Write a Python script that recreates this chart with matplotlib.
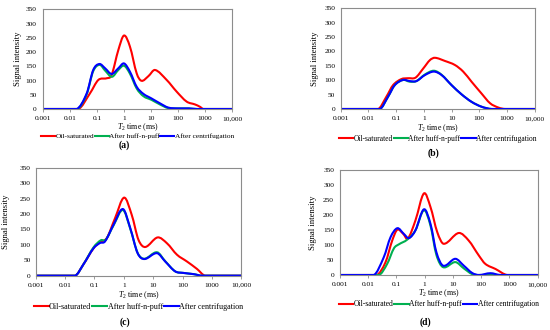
import matplotlib
matplotlib.use("Agg")
import matplotlib.pyplot as plt
from matplotlib.lines import Line2D
from matplotlib.path import Path
from matplotlib.patches import PathPatch

plt.rcParams['font.family'] = ['Liberation Serif', 'DejaVu Serif']
plt.rcParams['mathtext.fontset'] = 'custom'
plt.rcParams['mathtext.rm'] = 'Liberation Serif'
plt.rcParams['mathtext.it'] = 'Liberation Serif:italic'

series_names = ["Oil-saturated", "After huff-n-puff", "After centrifugation"]
series_colors = ["#FF0000", "#00B050", "#0000FF"]
x_ticks = [0.001, 0.01, 0.1, 1, 10, 100, 1000, 10000]
x_tick_labels = ["0.001", "0.01", "0.1", "1", "10", "100", "1000", "10,000"]
y_ticks = [0, 50, 100, 150, 200, 250, 300, 350]
panel_labels = ["(a)", "(b)", "(c)", "(d)"]

# log10(T2) positions and intensities, panel (a)
a_red_logt = [-3, -1.69, -1.26, -0.95, -0.64, -0.46, -0.21, 0.0, 0.22, 0.47, 0.65, 0.9, 1.15, 1.58, 1.95, 2.32, 2.63, 2.81, 2.94, 4]
a_red_val = [0, 0, 55, 102, 108, 119, 207, 258, 219, 125, 99, 115, 137, 102, 61, 26, 16, 8, 0, 0]
a_green_logt = [-3, -1.73, -1.38, -1.14, -0.9, -0.7, -0.45, -0.21, 0.0, 0.22, 0.47, 0.72, 1.02, 1.33, 1.64, 2.0, 2.4, 2.7, 4]
a_green_val = [0, 0, 52, 133, 155, 135, 113, 137, 152, 124, 72, 45, 32, 16, 3, 2, 2, 0, 0]
a_blue_logt = [-3, -1.75, -1.38, -1.14, -0.91, -0.7, -0.46, -0.21, 0.0, 0.22, 0.47, 0.72, 1.02, 1.33, 1.64, 2.0, 2.4, 2.7, 4]
a_blue_val = [0, 0, 55, 137, 158, 143, 123, 143, 160, 131, 78, 53, 37, 20, 5, 2, 2, 0, 0]

# panel (b)
b_red_logt = [-3, -1.65, -1.35, -1.11, -0.81, -0.57, -0.3, -0.02, 0.22, 0.4, 0.76, 1.12, 1.42, 1.72, 2.08, 2.39, 2.69, 2.93, 4]
b_red_val = [0, 0, 43, 83, 104, 107, 109, 141, 170, 178, 167, 153, 130, 95, 54, 20, 5, 0, 0]
b_green_logt = [-3, -1.59, -1.29, -1.05, -0.75, -0.51, -0.27, 0.04, 0.36, 0.64, 1.0, 1.36, 1.72, 2.08, 2.45, 4]
b_green_val = [0, 0, 43, 83, 101, 95, 97, 120, 133, 119, 83, 51, 25, 8, 0, 0]
b_blue_logt = [-3, -1.59, -1.29, -1.05, -0.75, -0.51, -0.27, 0.04, 0.36, 0.64, 1.0, 1.36, 1.72, 2.08, 2.45, 4]
b_blue_val = [0, 0, 43, 83, 101, 97, 97, 118, 130, 118, 83, 51, 25, 8, 0, 0]

# panel (c)
c_red_logt = [-3, -1.66, -1.38, -1.03, -0.81, -0.58, -0.3, 0.01, 0.27, 0.5, 0.73, 1.15, 1.47, 1.81, 2.15, 2.49, 2.77, 4]
c_red_val = [0, 0, 36, 89, 109, 122, 186, 253, 197, 116, 93, 124, 105, 68, 46, 22, 0, 0]
c_green_logt = [-3, -1.66, -1.38, -1.03, -0.78, -0.62, -0.35, -0.03, 0.22, 0.47, 0.7, 1.13, 1.41, 1.75, 2.03, 2.38, 2.66, 4]
c_green_val = [0, 0, 36, 92, 115, 116, 163, 213, 152, 74, 55, 76, 47, 14, 9, 5, 0, 0]
c_blue_logt = [-3, -1.66, -1.38, -1.03, -0.81, -0.64, -0.35, -0.03, 0.22, 0.47, 0.7, 1.13, 1.41, 1.75, 2.03, 2.38, 2.66, 4]
c_blue_val = [0, 0, 36, 89, 106, 111, 165, 216, 154, 73, 54, 73, 46, 14, 9, 5, 0, 0]

# panel (d)
d_red_logt = [-3, -1.69, -1.38, -1.14, -0.96, -0.75, -0.59, -0.32, -0.02, 0.21, 0.45, 0.68, 1.21, 1.56, 1.92, 2.15, 2.51, 2.92, 4]
d_red_val = [0, 0, 42, 115, 151, 137, 121, 182, 272, 227, 143, 104, 140, 115, 65, 37, 20, 0, 0]
d_green_logt = [-3, -1.61, -1.32, -1.08, -0.91, -0.61, -0.32, -0.02, 0.21, 0.42, 0.66, 1.09, 1.39, 1.68, 1.9, 4]
d_green_val = [0, 0, 37, 89, 102, 118, 149, 216, 165, 67, 26, 43, 22, 3, 0, 0]
d_blue_logt = [-3, -1.79, -1.44, -1.2, -0.96, -0.73, -0.55, -0.32, -0.02, 0.21, 0.42, 0.66, 1.09, 1.39, 1.68, 1.92, 2.33, 2.68, 4]
d_blue_val = [0, 0, 59, 126, 156, 137, 123, 149, 219, 171, 76, 31, 54, 31, 7, 0, 6, 0, 0]

panels = [
    [(a_red_logt, a_red_val), (a_green_logt, a_green_val), (a_blue_logt, a_blue_val)],
    [(b_red_logt, b_red_val), (b_green_logt, b_green_val), (b_blue_logt, b_blue_val)],
    [(c_red_logt, c_red_val), (c_green_logt, c_green_val), (c_blue_logt, c_blue_val)],
    [(d_red_logt, d_red_val), (d_green_logt, d_green_val), (d_blue_logt, d_blue_val)],
]


def smooth_path(lt, v):
    """Smoothed-line rendering (cubic Bezier through the data points, like
    a spreadsheet 'smoothed line'), built in log-x space."""
    n = len(lt)
    m = []
    for i in range(n):
        if i == 0 or i == n - 1:
            m.append(0.0)
        else:
            m.append((v[i + 1] - v[i - 1]) / (lt[i + 1] - lt[i - 1]))
    verts = [(10 ** lt[0], v[0])]
    codes = [Path.MOVETO]
    for i in range(n - 1):
        dx = lt[i + 1] - lt[i]
        c1 = (lt[i] + dx / 3, max(0.0, v[i] + m[i] * dx / 3))
        c2 = (lt[i + 1] - dx / 3, max(0.0, v[i + 1] - m[i + 1] * dx / 3))
        verts += [(10 ** c1[0], c1[1]), (10 ** c2[0], c2[1]), (10 ** lt[i + 1], v[i + 1])]
        codes += [Path.CURVE4] * 3
    return Path(verts, codes)


W, H = 550, 330
fig = plt.figure(figsize=(5.5, 3.3), dpi=100)

# pixel boxes: left, top, right, bottom
boxes = [(43, 9.3, 232, 109), (340.7, 8.3, 534.7, 109),
         (35.7, 167.7, 241.3, 275.7), (339.6, 170, 537.7, 275)]
ylabel_x = [18, 315, 6, 313]
xlabel_y = [127, 128, 295, 293.5]
legend_y = [136, 139, 306.7, 304.3]
legend_fs = [5.3, 5.45, 5.75, 5.5]
ytick_pad = [4.5, 4, 3.5, 4]
label_pos = [(124, 145), (434, 153), (125, 322.5), (425, 322.5)]

spine_col = "#8C8C8C"
for i, (l, t, r, b) in enumerate(boxes):
    ax = fig.add_axes([l / W, 1 - b / H, (r - l) / W, (b - t) / H])
    ax.set_xscale('log')
    ax.set_xlim(0.001, 10000)
    ax.set_ylim(0, 350)
    for (lt, v), col in zip(panels[i], series_colors):
        ax.add_patch(PathPatch(smooth_path(lt, v), facecolor='none', edgecolor=col,
                               lw=1.5, capstyle='round', joinstyle='round',
                               transform=ax.transData))
    ax.set_xticks(x_ticks)
    ax.set_xticklabels(x_tick_labels)
    ax.minorticks_off()
    ax.set_yticks(y_ticks)
    ax.tick_params(axis='x', length=2, width=0.6, color=spine_col, labelsize=5.3, pad=3)
    ax.tick_params(axis='y', length=0, labelsize=5.3, pad=ytick_pad[i])
    for s in ax.spines.values():
        s.set_color(spine_col)
        s.set_linewidth(0.8)
    cx = (l + r) / 2
    fig.text(ylabel_x[i] / W, 1 - ((t + b) / 2) / H, "Signal intensity", rotation=90,
             ha='center', va='center', fontsize=6.2)
    fig.text(cx / W, 1 - xlabel_y[i] / H, r"$T_2$ time (ms)", ha='center', va='center', fontsize=5.8)
    handles = [Line2D([], [], color=c, lw=1.5) for c in series_colors]
    fig.legend(handles, series_names, loc='center', bbox_to_anchor=(cx / W, 1 - legend_y[i] / H),
               ncol=3, frameon=False, fontsize=legend_fs[i], handlelength=1.9, handletextpad=0.05,
               columnspacing=0.1, borderaxespad=0, borderpad=0)
    fig.text(label_pos[i][0] / W, 1 - label_pos[i][1] / H, panel_labels[i], ha='center',
             va='center', fontsize=7, fontweight='bold')

fig.savefig("out.png", dpi=100)
